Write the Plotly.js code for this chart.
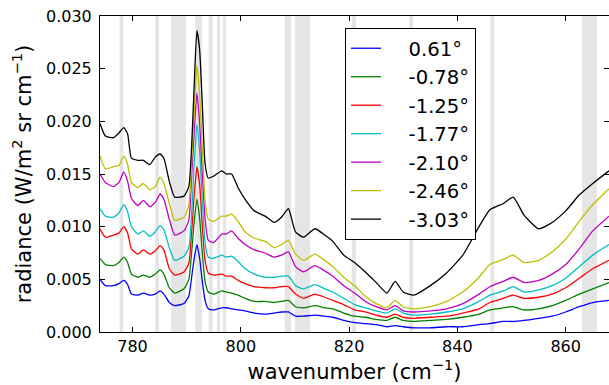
<!DOCTYPE html>
<html>
<head>
<meta charset="utf-8">
<script src="https://cdn.plot.ly/plotly-3.0.1.min.js"></script>
<style>html,body{margin:0;padding:0;background:#fff;}#chart{width:609px;height:385px;}</style>
</head>
<body>
<div id="chart"></div>
<script>
const wavenumber = [
  774, 775, 776.5, 777.5, 778.4, 779.1, 779.8, 781, 782, 783.2,
  784.2, 785.1, 785.8, 786.8, 787.8, 789.5, 790.4, 791, 791.4, 791.9,
  792.4, 792.9, 793.4, 794, 795, 796.5, 797.3, 798.3, 799.5, 800.8,
  802.5, 804.5, 806.2, 807.5, 808.8, 810.1, 811.6, 813.7, 815.5, 817,
  819, 821, 823, 825, 827, 828.5, 830, 832, 835, 838,
  841, 844, 846, 848.5, 850.3, 852.3, 855, 857.5, 860, 862.5,
  865, 868
];
const angleLabels = ["0.61°", "-0.78°", "-1.25°", "-1.77°", "-2.10°", "-2.46°", "-3.03°"];
const rad_p061 = [
  0.0050, 0.0044, 0.0044, 0.0046, 0.0049, 0.0045, 0.0036, 0.0035, 0.0037, 0.0035,
  0.0036, 0.0039, 0.0036, 0.0028, 0.0025, 0.0027, 0.0034, 0.0055, 0.0070, 0.0083,
  0.0070, 0.0048, 0.0030, 0.0022, 0.0021, 0.0023, 0.0023, 0.0022, 0.0021, 0.0020,
  0.0018, 0.0017, 0.0018, 0.0019, 0.0019, 0.0015, 0.0015, 0.0016, 0.0015, 0.0014,
  0.0011, 0.0009, 0.0008, 0.0007, 0.0005, 0.0006, 0.0005, 0.0004, 0.0004, 0.0005,
  0.0005, 0.0007, 0.0008, 0.0010, 0.0010, 0.0011, 0.0013, 0.0015, 0.0019, 0.0024,
  0.0028, 0.0030
];
const rad_m078 = [
  0.0070, 0.0064, 0.0063, 0.0066, 0.0071, 0.0066, 0.0055, 0.0052, 0.0054, 0.0052,
  0.0055, 0.0059, 0.0055, 0.0042, 0.0037, 0.0041, 0.0050, 0.0080, 0.0105, 0.0126,
  0.0108, 0.0075, 0.0048, 0.0038, 0.0036, 0.0039, 0.0038, 0.0037, 0.0035, 0.0032,
  0.0029, 0.0029, 0.0028, 0.0029, 0.0030, 0.0024, 0.0023, 0.0025, 0.0023, 0.0022,
  0.0018, 0.0015, 0.0014, 0.0012, 0.0011, 0.0014, 0.0011, 0.0010, 0.0011, 0.0012,
  0.0014, 0.0017, 0.0021, 0.0023, 0.0024, 0.0021, 0.0022, 0.0025, 0.0030, 0.0036,
  0.0041, 0.0047
];
const rad_m125 = [
  0.0098, 0.0090, 0.0092, 0.0094, 0.0100, 0.0094, 0.0079, 0.0074, 0.0078, 0.0074,
  0.0077, 0.0082, 0.0078, 0.0060, 0.0054, 0.0057, 0.0065, 0.0100, 0.0130, 0.0157,
  0.0140, 0.0100, 0.0068, 0.0056, 0.0054, 0.0055, 0.0053, 0.0053, 0.0049, 0.0046,
  0.0043, 0.0042, 0.0042, 0.0043, 0.0043, 0.0036, 0.0032, 0.0036, 0.0033, 0.0030,
  0.0026, 0.0021, 0.0019, 0.0016, 0.0014, 0.0017, 0.0014, 0.0013, 0.0014, 0.0015,
  0.0018, 0.0022, 0.0028, 0.0032, 0.0035, 0.0032, 0.0033, 0.0036, 0.0042, 0.0051,
  0.0060, 0.0068
];
const rad_m177 = [
  0.0117, 0.0110, 0.0109, 0.0113, 0.0121, 0.0114, 0.0100, 0.0093, 0.0096, 0.0091,
  0.0095, 0.0101, 0.0097, 0.0080, 0.0068, 0.0072, 0.0080, 0.0120, 0.0160, 0.0197,
  0.0172, 0.0125, 0.0085, 0.0071, 0.0070, 0.0073, 0.0071, 0.0072, 0.0067, 0.0060,
  0.0055, 0.0052, 0.0052, 0.0053, 0.0053, 0.0044, 0.0041, 0.0045, 0.0041, 0.0038,
  0.0032, 0.0026, 0.0023, 0.0020, 0.0018, 0.0022, 0.0018, 0.0016, 0.0017, 0.0019,
  0.0022, 0.0029, 0.0035, 0.0039, 0.0043, 0.0038, 0.0040, 0.0044, 0.0051, 0.0062,
  0.0073, 0.0083
];
const rad_m210 = [
  0.0150, 0.0142, 0.0138, 0.0142, 0.0152, 0.0143, 0.0127, 0.0120, 0.0125, 0.0119,
  0.0123, 0.0131, 0.0126, 0.0107, 0.0092, 0.0096, 0.0106, 0.0155, 0.0190, 0.0227,
  0.0198, 0.0150, 0.0108, 0.0087, 0.0085, 0.0093, 0.0093, 0.0096, 0.0089, 0.0083,
  0.0078, 0.0075, 0.0071, 0.0073, 0.0076, 0.0062, 0.0057, 0.0063, 0.0058, 0.0053,
  0.0044, 0.0037, 0.0029, 0.0024, 0.0021, 0.0025, 0.0020, 0.0019, 0.0020, 0.0022,
  0.0027, 0.0036, 0.0043, 0.0048, 0.0052, 0.0047, 0.0049, 0.0055, 0.0064, 0.0079,
  0.0096, 0.0110
];
const rad_m246 = [
  0.0167, 0.0155, 0.0157, 0.0158, 0.0167, 0.0159, 0.0142, 0.0137, 0.0141, 0.0135,
  0.0138, 0.0147, 0.0141, 0.0122, 0.0106, 0.0109, 0.0120, 0.0170, 0.0210, 0.0253,
  0.0225, 0.0175, 0.0125, 0.0107, 0.0105, 0.0110, 0.0110, 0.0112, 0.0105, 0.0095,
  0.0089, 0.0086, 0.0080, 0.0083, 0.0087, 0.0074, 0.0068, 0.0074, 0.0068, 0.0062,
  0.0052, 0.0044, 0.0034, 0.0027, 0.0023, 0.0030, 0.0024, 0.0022, 0.0024, 0.0029,
  0.0038, 0.0052, 0.0064, 0.0069, 0.0073, 0.0066, 0.0068, 0.0076, 0.0088, 0.0105,
  0.0121, 0.0136
];
const rad_m303 = [
  0.0198, 0.0186, 0.01845, 0.0189, 0.0194, 0.0188, 0.0165, 0.0163, 0.0163, 0.0159,
  0.0166, 0.0169, 0.0165, 0.0143, 0.0128, 0.0129, 0.0138, 0.0185, 0.0235, 0.0286,
  0.0268, 0.0215, 0.0160, 0.0146, 0.0148, 0.0153, 0.0150, 0.0150, 0.0137, 0.0126,
  0.0115, 0.0110, 0.0104, 0.0109, 0.0117, 0.0095, 0.0090, 0.0098, 0.0092, 0.0086,
  0.0073, 0.0066, 0.0057, 0.0047, 0.0037, 0.0048, 0.0038, 0.0035, 0.0044, 0.0056,
  0.0073, 0.0100, 0.0116, 0.0122, 0.0128, 0.0111, 0.0098, 0.0104, 0.0115, 0.0130,
  0.0141, 0.0153
];
const seriesColors = ["#0000ff", "#008000", "#ff0000", "#00bfbf", "#bf00bf", "#bfbf00", "#000000"];
const bandStart = [777.6, 784.2, 787.1, 791.6, 794.1, 795.6, 796.7, 808.1, 810.0, 820.5, 831.1, 846.1, 863.0];
const bandEnd   = [778.3, 784.9, 789.9, 792.8, 794.8, 796.2, 797.3, 809.3, 812.8, 821.3, 831.8, 846.8, 865.8];
const xTicks = [780, 800, 820, 840, 860];
const yTicks = [0.000, 0.005, 0.010, 0.015, 0.020, 0.025, 0.030];

const allSeries = [rad_p061, rad_m078, rad_m125, rad_m177, rad_m210, rad_m246, rad_m303];
const pad = "\u00a0\u00a0\u00a0\u2009";
const traces = allSeries.map((ys, i) => ({
  x: wavenumber, y: ys, type: "scatter", mode: "lines",
  name: pad + angleLabels[i],
  line: {color: seriesColors[i], width: 1.3, shape: "spline", smoothing: 0.5}
}));

const shapes = bandStart.map((s, i) => ({
  type: "rect", xref: "x", yref: "paper", x0: s, x1: bandEnd[i], y0: 0, y1: 1,
  fillcolor: "#e5e5e5", line: {width: 0}, layer: "below"
}));

const font = "DejaVu Sans, sans-serif";
const layout = {
  width: 609, height: 385,
  margin: {l: 100, r: 0, t: 16, b: 53},
  paper_bgcolor: "#ffffff", plot_bgcolor: "#ffffff",
  font: {family: font, size: 16, color: "#000"},
  showlegend: true,
  legend: {
    x: (345 - 100) / 509, y: 1 - (28 - 16) / 316, xanchor: "left", yanchor: "top",
    bgcolor: "#ffffff", bordercolor: "#000000", borderwidth: 1,
    font: {family: font, size: 19.6, color: "#000"},
    itemwidth: 30, tracegroupgap: 0
  },
  xaxis: {
    range: [774, 868], tickvals: xTicks, ticktext: xTicks.map(String),
    ticks: "inside", ticklen: 5, tickcolor: "#000", mirror: "ticks",
    showline: true, linecolor: "#000", linewidth: 1, showgrid: false, zeroline: false,
    tickfont: {family: font, size: 16},
    title: {text: "wavenumber (cm<sup>−1</sup>)", font: {family: font, size: 21}, standoff: 6}
  },
  yaxis: {
    range: [0, 0.030], tickvals: yTicks, ticktext: yTicks.map(v => v.toFixed(3)),
    ticks: "inside", ticklen: 5, tickcolor: "#000", mirror: "ticks",
    showline: true, linecolor: "#000", linewidth: 1, showgrid: false, zeroline: false,
    tickfont: {family: font, size: 16}, ticklabelstandoff: 4,
    title: {text: "radiance (W/m<sup>2</sup> sr cm<sup>−1</sup>)", font: {family: font, size: 21}, standoff: 8}
  },
  shapes: shapes
};
Plotly.newPlot("chart", traces, layout, {staticPlot: true, displayModeBar: false});
</script>
</body>
</html>
